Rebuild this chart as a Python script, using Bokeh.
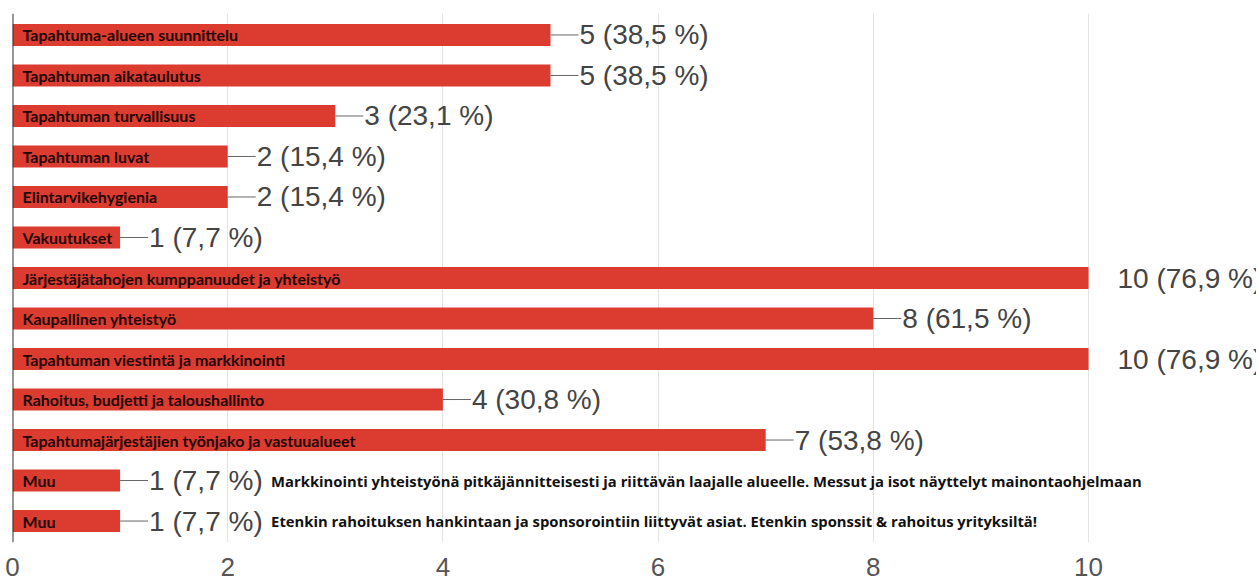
from bokeh.plotting import figure
from bokeh.models import ColumnDataSource, Range1d, Span, FixedTicker
from bokeh.core.properties import value
from bokeh.embed import file_html
from bokeh.resources import INLINE

categories = [
    "Tapahtuma-alueen suunnittelu",
    "Tapahtuman aikataulutus",
    "Tapahtuman turvallisuus",
    "Tapahtuman luvat",
    "Elintarvikehygienia",
    "Vakuutukset",
    "Järjestäjätahojen kumppanuudet ja yhteistyö",
    "Kaupallinen yhteistyö",
    "Tapahtuman viestintä ja markkinointi",
    "Rahoitus, budjetti ja taloushallinto",
    "Tapahtumajärjestäjien työnjako ja vastuualueet",
    "Muu",
    "Muu",
]
counts = [5, 5, 3, 2, 2, 1, 10, 8, 10, 4, 7, 1, 1]
percents = ["38,5", "38,5", "23,1", "15,4", "15,4", "7,7", "76,9", "61,5",
            "76,9", "30,8", "53,8", "7,7", "7,7"]
comments = ["", "", "", "", "", "", "", "", "", "", "",
            "Markkinointi yhteistyönä pitkäjännitteisesti ja riittävän laajalle alueelle. Messut ja isot näyttelyt mainontaohjelmaan",
            "Etenkin rahoituksen hankintaan ja sponsorointiin liittyvät asiat. Etenkin sponssit & rahoitus yrityksiltä!"]
x_ticks = [0, 2, 4, 6, 8, 10]

FRAME_W, FRAME_H = 1244, 529
PX_PER_UNIT = 107.6
X_END = FRAME_W / PX_PER_UNIT

rows = list(range(len(categories)))
labels = [f"{c} ({p} %)" for c, p in zip(counts, percents)]
max_count = max(counts)

src = ColumnDataSource(dict(y=rows, cat=categories, count=counts, label=labels, comment=comments))

p = figure(frame_width=FRAME_W, frame_height=FRAME_H, output_backend="svg", toolbar_location=None,
           x_range=Range1d(0, X_END), y_range=Range1d(len(rows) - 1 + 0.53, -0.53),
           min_border_left=12, min_border_right=0, min_border_top=13, min_border_bottom=0)
p.outline_line_color = None
p.background_fill_color = "white"
p.border_fill_color = "white"

p.hbar(y="y", left=0, right="count", height=0.54, source=src,
       fill_color="#dc3b30", line_color=None)

p.text(x=0, y="y", text="cat", source=src, x_offset=10,
       text_baseline="middle", text_align="left",
       text_font=value("Lato"), text_font_style="bold",
       text_font_size="16px", text_color="#220404")

gap = 28 / PX_PER_UNIT
seg_y = [r for r, c in zip(rows, counts) if c < max_count]
seg_x0 = [c for c in counts if c < max_count]
seg_x1 = [c + gap for c in seg_x0]
p.segment(x0=seg_x0, y0=seg_y, x1=seg_x1, y1=seg_y, line_color="#666666", line_width=1)

p.text(x="count", y="y", text="label", source=src, x_offset=29,
       text_baseline="middle", text_align="left",
       text_font=value("Liberation Sans"), text_font_size="28px", text_color="#444444")

p.text(x="count", y="y", text="comment", source=src, x_offset=151,
       text_baseline="middle", text_align="left",
       text_font=value("Open Sans"), text_font_style="bold",
       text_font_size="14.8px", text_color="#111111")

p.add_layout(Span(location=0, dimension="height", line_color="#333333", line_width=2))

p.yaxis.visible = False
p.ygrid.visible = False
p.xgrid.ticker = FixedTicker(ticks=x_ticks[1:])
p.xgrid.grid_line_color = "#e4e4e4"
p.xaxis.ticker = FixedTicker(ticks=x_ticks)
p.xaxis.axis_line_color = None
p.xaxis.major_tick_line_color = None
p.xaxis.minor_tick_line_color = None
p.xaxis.major_tick_out = 0
p.xaxis.major_label_standoff = 15
p.xaxis.major_label_text_font = "Liberation Sans"
p.xaxis.major_label_text_font_size = "26px"
p.xaxis.major_label_text_color = "#555555"

open("out.html", "w").write(file_html(p, INLINE))
